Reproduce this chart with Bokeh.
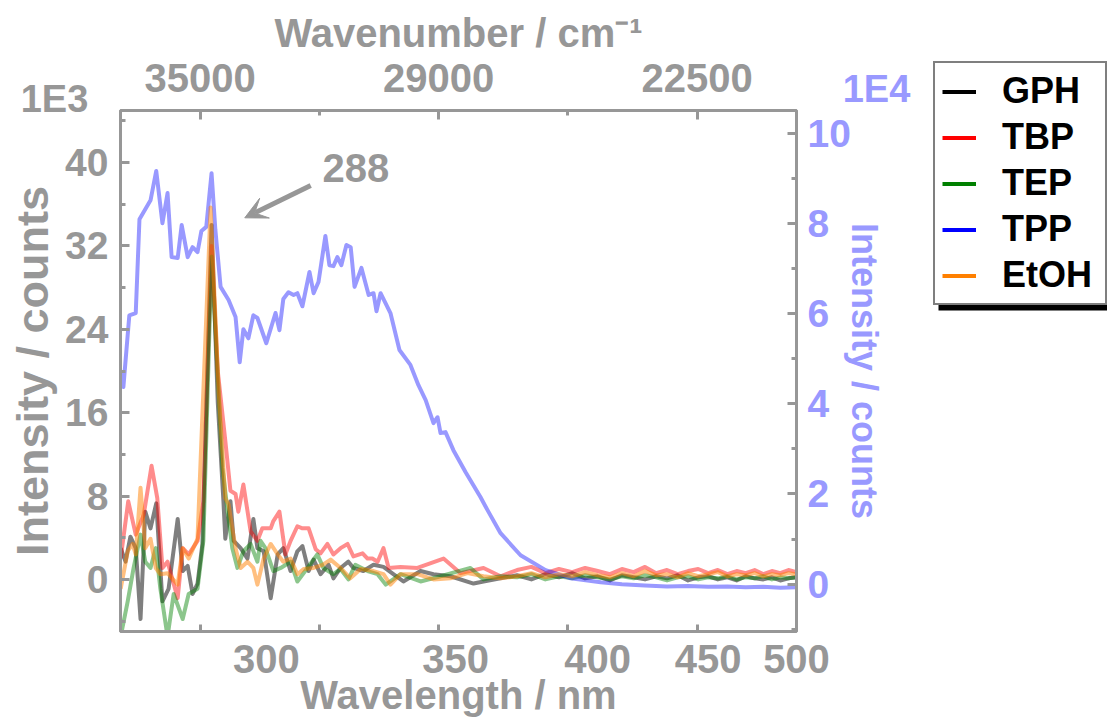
import numpy as np
from bokeh.plotting import figure
from bokeh.models import (Range1d, LinearAxis, FixedTicker, CustomJSTickFormatter,
                          Legend, LegendItem, Label, Arrow, VeeHead, BoxAnnotation)
from bokeh.embed import file_html
from bokeh.resources import INLINE

# ---------------- data (wavelength in nm) ----------------
tbp_wl = [270.3, 271.7, 273.1, 274.6, 276.1, 277.2, 278.2, 279.2, 281.2, 282.2, 283.4, 285.2, 286.4,
          288.1, 289.4, 291.0, 292.1, 293.2, 293.8, 294.9, 296.5, 298.0, 299.1, 301.0, 301.6, 303.0,
          304.4, 305.6, 307.2, 308.4, 309.9, 311.6, 312.8, 314.5, 316.0, 317.8, 319.6, 321.1, 323.5,
          324.8, 326.1, 327.5, 329.1, 330.5, 333.8, 338.6, 346.3, 351.5, 358.8, 364.4,
          370, 375, 380, 385, 390, 395, 400, 405, 410, 415, 420, 425, 430, 435, 440, 445, 450, 455,
          460, 465, 470, 475, 480, 485, 490, 495, 500]
tbp_val = [2.0, 7.5, 4.3, 6.2, 10.9, 7.8, 1.1, 1.7, -1.8, 3.0, 2.4, 3.7, 7.5,
           32.0, 20.0, 13.3, 8.5, 8.2, 6.5, 9.1, 4.6, 3.7, 4.9, 4.9, 5.6, 6.5,
           2.4, 3.7, 5.1, 4.9, 4.9, 2.9, 2.5, 3.4, 2.4, 3.0, 3.4, 2.2, 2.5,
           2.0, 2.0, 1.7, 3.0, 1.1, 1.2, 1.1, 2.0, 0.6, 1.1, 0.3,
           0.9, 1.2, 0.6, 1.0, 0.7, 1.1, 0.8, 0.5, 1.0, 0.7, 1.2, 0.6, 0.9, 0.5, 0.8, 1.0, 0.6, 0.9,
           0.5, 0.8, 0.6, 0.9, 0.5, 0.8, 0.6, 0.9, 0.7]

gph_wl = [270.3, 271.2, 272.1, 273.1, 274.0, 274.9, 275.9, 277.0, 278.2, 279.4, 281.2, 282.2, 283.2,
          284.2, 285.2, 286.2, 288.1, 289.4, 290.6, 291.0, 292.1, 292.8, 294.3, 295.8, 297.1, 298.0,
          299.4, 301.0, 302.6, 303.9, 305.6, 307.2, 308.4, 309.9, 311.1, 312.8, 314.8, 316.0, 317.8,
          319.8, 321.1, 323.7, 326.4, 329.1, 331.8, 334.6, 339.5, 343.3, 348.4, 355.6, 358.8, 364.4,
          370, 375, 380, 385, 390, 395, 400, 405, 410, 415, 420, 425, 430, 435, 440, 445, 450, 455,
          460, 465, 470, 475, 480, 485, 490, 495, 500]
gph_val = [3.0, 1.7, 4.1, 3.0, -3.8, 6.5, 4.9, 7.3, -2.1, -0.9, 5.8, 0.8, 1.3,
           -1.4, -0.4, 3.4, 34.0, 17.0, 7.5, 3.9, 7.5, 3.7, 3.0, 2.0, 5.8, 3.0,
           2.7, -1.8, 2.4, 3.0, 0.8, 2.7, 3.2, 0.8, 1.9, 0.5, 1.4, 0.1, 1.1,
           1.7, 1.1, 0.8, 1.4, 1.2, 0.5, -0.2, 0.8, 0.5, 0.3, -0.4, -0.2, 0.1,
           0.4, 0.0, 0.5, 0.2, 0.6, 0.1, 0.3, -0.1, 0.4, 0.2, 0.0, 0.3, 0.1, 0.4, -0.1, 0.2, 0.3, 0.0,
           0.2, -0.1, 0.3, 0.1, 0.0, 0.2, -0.1, 0.1, 0.2]

tep_wl = [270.3, 271.6, 272.7, 274.0, 274.9, 275.9, 276.9, 277.8, 279.2, 280.4, 282.2, 283.4, 285.2,
          286.4, 288.1, 290.4, 291.5, 292.5, 293.6, 294.9, 296.5, 298.0, 298.7, 299.8, 301.6, 303.3,
          305.6, 307.2, 309.6, 312.0, 313.5, 316.0, 317.8, 319.8, 321.6, 324.8, 327.5, 329.7, 333.8,
          339.5, 345.4, 354.6, 358.8, 364.4,
          370, 375, 380, 385, 390, 395, 400, 405, 410, 415, 420, 425, 430, 435, 440, 445, 450, 455,
          460, 465, 470, 475, 480, 485, 490, 495, 500]
tep_val = [-5.5, -2.1, 1.1, 4.3, 1.7, 1.1, 3.0, -0.9, -5.5, -1.4, -3.8, -1.4, -0.9,
           3.7, 31.0, 10.7, 6.5, 3.0, 1.1, 2.7, 3.4, 1.7, 3.7, 3.0, 0.8, 1.1,
           1.7, -0.2, 1.1, 2.4, 1.1, 0.5, 1.0, 0.0, 1.4, 0.8, 0.5, -0.5, 0.5,
           -0.2, 0.3, 1.1, 0.0, 0.3,
           0.2, 0.5, 0.0, 0.3, 0.1, 0.4, 0.2, 0.0, 0.3, 0.1, 0.4, 0.2, -0.1, 0.2, 0.3, 0.0, 0.2, 0.1,
           0.3, 0.0, 0.2, 0.1, 0.3, 0.0, 0.2, 0.1, 0.2]

etoh_wl = [270.3, 271.6, 272.5, 273.1, 274.0, 274.9, 275.9, 276.9, 277.8, 279.2, 281.2, 282.2, 283.4,
           285.2, 287.9, 289.6, 291.0, 291.7, 292.5, 293.2, 294.3, 295.8, 297.1, 298.0, 299.4, 301.0,
           302.6, 303.9, 305.6, 307.2, 308.7, 311.1, 313.3, 315.3, 317.8, 320.3, 323.0, 326.4, 329.1,
           331.0, 333.8, 338.6, 343.3, 348.4, 353.7, 358.8, 364.4,
           370, 375, 380, 385, 390, 395, 400, 405, 410, 415, 420, 425, 430, 435, 440, 445, 450, 455,
           460, 465, 470, 475, 480, 485, 490, 495, 500]
etoh_val = [-0.9, 2.7, 3.4, 2.4, 8.8, 3.0, 3.9, 1.1, 0.5, 0.6, -0.5, 3.0, 2.0,
            3.9, 35.7, 18.0, 7.8, 7.2, 4.9, 3.0, 1.1, 1.7, 1.1, -0.5, 2.0, 3.4,
            2.4, 1.7, 2.0, 0.5, 1.0, 1.1, 1.4, 1.9, 1.1, 0.1, 1.0, 0.8, 0.5,
            -0.5, 0.5, 0.5, 0.0, 0.1, 0.6, 0.3, 0.1,
            0.3, 0.6, 0.2, 0.5, 0.3, 0.7, 0.4, 0.2, 0.6, 0.3, 0.8, 0.4, 0.5, 0.2, 0.6, 0.3, 0.5, 0.7,
            0.3, 0.5, 0.4, 0.6, 0.3, 0.5, 0.4, 0.6, 0.5]

# TPP on the right axis, in units of 1E4 counts
tpp_wl = [270.4, 270.8, 271.9, 273.1, 273.8, 275.9, 277.0, 278.2, 279.2, 280.0, 281.2, 282.0, 283.2,
          284.2, 285.2, 286.0, 287.0, 288.1, 288.9, 290.0, 291.7, 293.2, 294.1, 294.9, 296.0, 297.1,
          298.0, 300.0, 302.1, 303.0, 303.9, 305.1, 306.3, 307.2, 308.4, 310.1, 311.1, 312.3, 314.0,
          315.0, 316.0, 317.0, 318.0, 319.3, 320.4, 321.4, 323.2, 325.1, 326.4, 327.2, 328.3, 331.0,
          333.5, 336.6, 338.9, 341.0, 343.3, 344.5, 345.4, 346.9, 349.3, 353.1, 357.8, 360.1, 364.4,
          371.2, 380.1, 389.4, 401.2, 410, 420, 430, 440, 450, 460, 470, 480, 490, 500]
tpp_val = [4.70, 4.37, 5.96, 6.01, 8.09, 8.51, 9.16, 8.00, 8.67, 7.25, 7.23, 7.96, 7.25,
           7.47, 7.36, 7.83, 7.92, 9.11, 7.85, 6.59, 6.30, 5.92, 4.92, 5.65, 5.45, 5.96,
           5.90, 5.34, 6.01, 5.63, 6.32, 6.47, 6.41, 6.45, 6.16, 6.92, 6.45, 6.70, 7.72,
           7.07, 7.05, 7.25, 7.07, 7.52, 7.47, 6.59, 7.01, 6.41, 6.45, 6.05, 6.45, 6.01,
           5.19, 4.86, 4.41, 4.08, 3.57, 3.70, 3.35, 3.37, 2.97, 2.48, 1.93, 1.64, 1.13,
           0.64, 0.31, 0.13, 0.04, 0.00, -0.03, -0.05, -0.04, -0.06, -0.05, -0.07, -0.06, -0.08, -0.07]

left_ticks = [0, 8, 16, 24, 32, 40]
left_minor = [-4, 4, 12, 20, 28, 36, 44]
right_ticks = [0, 2, 4, 6, 8, 10]
right_minor = [-1, 1, 3, 5, 7, 9]
top_ticks = [35000, 29000, 22500]
top_minor = [32000, 25750]
bottom_wl_labels = [300, 350, 400, 450, 500]

series = [("GPH", gph_wl, gph_val, "#000000", 0.5),
          ("TBP", tbp_wl, tbp_val, "#ff0000", 0.45),
          ("TEP", tep_wl, tep_val, "#008000", 0.45),
          ("TPP", tpp_wl, tpp_val, "#0000ff", 0.4),
          ("EtOH", etoh_wl, etoh_val, "#ff8000", 0.5)]


def wn(wl):
    return 1e7 / np.asarray(wl, dtype=float)


GRAY = "#979797"
LBLUE = "#9999ff"
FONT = "Liberation Sans"

p = figure(width=1107, height=720, output_backend="svg", toolbar_location=None,
           x_range=Range1d(37000, 20000), y_range=Range1d(-5, 45),
           x_axis_location=None, y_axis_location=None,
           min_border_left=120, min_border_right=311, min_border_top=110, min_border_bottom=89)
p.extra_y_ranges = {"right": Range1d(-1.05, 10.5)}
p.outline_line_color = GRAY
p.outline_line_width = 3
p.grid.visible = False
p.background_fill_color = "white"
p.border_fill_color = "white"


def style_axis(ax, label_color=GRAY, label_size="39px", title_size="40px", title_color=GRAY):
    ax.axis_line_color = GRAY
    ax.axis_line_width = 3
    ax.major_tick_line_color = GRAY
    ax.major_tick_line_width = 3
    ax.minor_tick_line_color = GRAY
    ax.minor_tick_line_width = 3
    ax.major_tick_in = 9
    ax.major_tick_out = 0
    ax.minor_tick_in = 5
    ax.minor_tick_out = 0
    ax.major_label_text_font = FONT
    ax.major_label_text_font_style = "bold"
    ax.major_label_text_color = label_color
    ax.major_label_text_font_size = label_size
    ax.axis_label_text_font = FONT
    ax.axis_label_text_font_style = "bold"
    ax.axis_label_text_color = title_color
    ax.axis_label_text_font_size = title_size


left = LinearAxis(ticker=FixedTicker(ticks=left_ticks, minor_ticks=left_minor),
                  axis_label="Intensity / counts")
style_axis(left, title_size="45px")
left.major_label_standoff = 12
left.axis_label_standoff = 4
p.add_layout(left, "left")

right = LinearAxis(y_range_name="right",
                   ticker=FixedTicker(ticks=right_ticks, minor_ticks=right_minor),
                   axis_label="Intensity / counts")
style_axis(right, label_color=LBLUE, title_size="36px", title_color=LBLUE)
right.major_label_standoff = 11
right.axis_label_standoff = -10
p.add_layout(right, "right")

top = LinearAxis(ticker=FixedTicker(ticks=top_ticks, minor_ticks=top_minor),
                 axis_label="Wavenumber / cm\u207b\u00b9")
style_axis(top, label_size="40px")
top.major_label_standoff = 19
top.axis_label_standoff = 6
p.add_layout(top, "above")

# bottom: wavelength labels (no major marks), wavenumber tick marks as minor ticks
bottom = LinearAxis(ticker=FixedTicker(ticks=list(wn(bottom_wl_labels)),
                                       minor_ticks=[35000, 32000, 29000, 25750, 22500]),
                    formatter=CustomJSTickFormatter(code="return Math.round(1e7 / tick).toString();"))
style_axis(bottom, label_size="40px")
bottom.major_tick_in = 0
bottom.minor_tick_in = 7
bottom.major_label_standoff = 13
p.add_layout(bottom, "below")

for name, wl, val, color, alpha in series:
    kw = {"y_range_name": "right"} if name == "TPP" else {}
    p.line(wn(wl), val, line_color=color, line_alpha=alpha, line_width=4,
           line_join="round", **kw)

p.add_layout(Label(x=wn(313.3), y=39.5, text="288", text_font=FONT, text_font_style="bold",
                   text_font_size="40px", text_color=GRAY, text_align="left",
                   text_baseline="middle"))
p.add_layout(Arrow(x_start=wn(310.4), y_start=37.8, x_end=wn(295.2), y_end=34.7,
                   line_color=GRAY, line_width=5,
                   end=VeeHead(size=22, fill_color=GRAY, line_color=GRAY, line_width=1)))

# ---------------- transparent overlay (whole canvas) for legend, scale labels, x title --------
ov = figure(width=1107, height=720, output_backend="svg", toolbar_location=None, title=None,
            x_range=Range1d(0, 1107), y_range=Range1d(0, 720),
            x_axis_location=None, y_axis_location=None, min_border=0)
ov.outline_line_color = None
ov.grid.visible = False
ov.background_fill_alpha = 0
ov.border_fill_alpha = 0
ov.styles = {"position": "absolute", "top": "0px", "left": "0px", "z-index": "5",
             "pointer-events": "none"}

ov.add_layout(Label(x=54, y=622, text="1E3", text_font=FONT, text_font_style="bold",
                    text_font_size="38px", text_color=GRAY, text_align="center",
                    text_baseline="middle"))
ov.add_layout(Label(x=876, y=632, text="1E4", text_font=FONT, text_font_style="bold",
                    text_font_size="38px", text_color=LBLUE, text_align="center",
                    text_baseline="middle"))
ov.add_layout(Label(x=458, y=26, text="Wavelength / nm", text_font=FONT, text_font_style="bold",
                    text_font_size="40px", text_color=GRAY, text_align="center",
                    text_baseline="middle"))

ov.add_layout(BoxAnnotation(left=938, right=1107, bottom=410, top=650, fill_color="black",
                            fill_alpha=1.0, line_color=None))
items = []
for name, wl, val, color, alpha in series:
    dummy = ov.line([np.nan], [np.nan], line_color=color, line_width=4)
    items.append(LegendItem(label=name, renderers=[dummy]))
lg = Legend(items=items, location=(933, 415))
lg.label_text_font = FONT
lg.label_text_font_style = "bold"
lg.label_text_font_size = "36px"
lg.label_text_color = "black"
lg.glyph_width = 34
lg.glyph_height = 41
lg.label_height = 41
lg.label_width = 96
lg.label_standoff = 26
lg.spacing = 4
lg.padding = 7
lg.margin = 0
lg.border_line_color = "black"
lg.border_line_width = 2
lg.background_fill_color = "white"
lg.background_fill_alpha = 1.0
ov.add_layout(lg)

open("out.html", "w").write(file_html([p, ov], INLINE))
